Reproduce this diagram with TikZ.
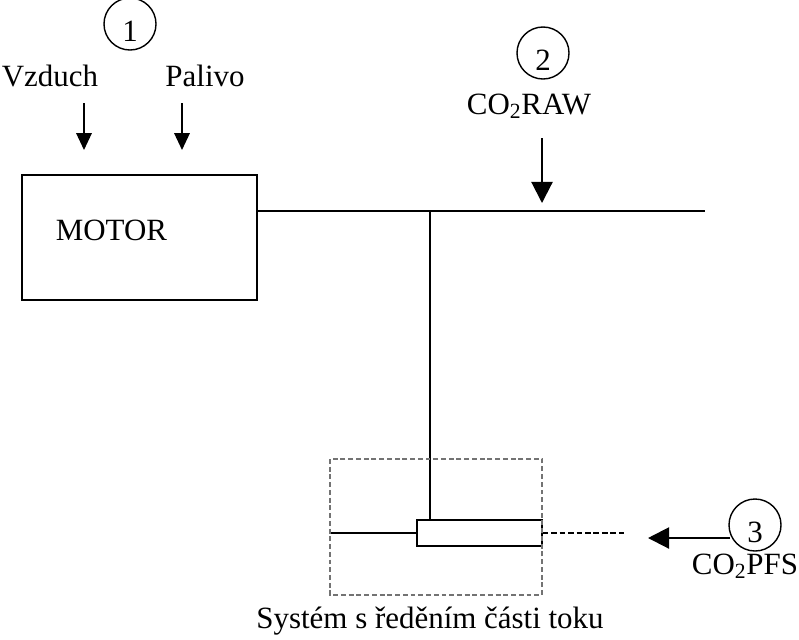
\documentclass[tikz,border=0pt]{standalone}
\usepackage{fontspec}
\setmainfont{Liberation Serif}
\usetikzlibrary{arrows.meta,positioning}
\begin{document}
\begin{tikzpicture}[x=0.025cm,y=-0.025cm,line width=1.2pt,
  txt/.style={font=\fontsize{22}{26}\selectfont,inner sep=0pt},
  numcirc/.style={draw,circle,line width=1pt,minimum size=1.3cm,inner sep=0pt},
  numtxt/.style={font=\fontsize{22}{25}\selectfont,inner sep=0pt},
  smallarr/.style={-{Triangle[length=12pt,width=11pt]}},
  bigarr/.style={line width=1.5pt,-{Triangle[length=15pt,width=15pt]}}]
  \useasboundingbox (0,0) rectangle (799,639);
  %%%%% ENGINE %%%%%
  \node[draw,minimum width=5.875cm,minimum height=3.125cm] (motor) at (139.5,237.5) {};
  \node[txt,anchor=west] (motortxt) at (55,230) {MOTOR};
  \node[numcirc] (c1) at (130,24) {};
  \node[numtxt] (n1) at ([yshift=-5pt]c1.center) {1};
  \node[txt] (vzduch) at (50,76) {Vzduch};
  \node[txt] (palivo) at (205,76) {Palivo};
  \coordinate (va) at (84,103);
  \coordinate (vb) at (84,150);
  \coordinate (pa) at (182,103);
  \coordinate (pb) at (182,150);
  \draw[smallarr] (va) -- (vb);
  \draw[smallarr] (pa) -- (pb);
  %%%%% PIPE %%%%%
  \coordinate (pipeend) at (705,211);
  \coordinate (tee) at (430,211);
  \draw (motor.east |- tee) -- (pipeend);
  \node[numcirc] (c2) at (543,53) {};
  \node[numtxt] (n2) at ([yshift=-5pt]c2.center) {2};
  \node[txt] (raw) at (529,106) {CO\textsubscript{2}RAW};
  \coordinate (ra) at (542,138);
  \coordinate (rb) at (542,203);
  \draw[bigarr] (ra) -- (rb);
  %%%%% PARTIAL FLOW SYSTEM %%%%%
  \node[draw,minimum width=3.125cm,minimum height=0.65cm,inner sep=0pt] (probe) at (479.5,533) {};
  \draw (tee) -- (tee |- probe.north);
  \coordinate (inlet) at (330,533);
  \coordinate (outlet) at (625,533);
  \draw (inlet) -- (probe.west);
  \draw[dash pattern=on 4pt off 2pt] (probe.east) -- (outlet);
  \draw[black!55,line width=1.4pt,dash pattern=on 3.5pt off 2pt] (330,459) rectangle (542,595);
  \node[txt] (pfs) at (430,621) {Systém s ředěním části toku};
  \node[numcirc] (c3) at (755,525) {};
  \node[numtxt] (n3) at ([yshift=-5pt]c3.center) {3};
  \node[txt] (co2pfs) at (745,566) {CO\textsubscript{2}PFS};
  \coordinate (fa) at (730,538);
  \coordinate (fb) at (648,538);
  \draw[bigarr] (fa) -- (fb);
\end{tikzpicture}
\end{document}
